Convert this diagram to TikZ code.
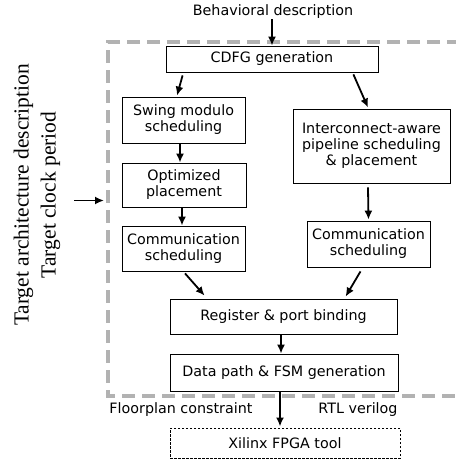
\documentclass[tikz,border=0pt]{standalone}
\usepackage{fontspec}
\setmainfont{DejaVu Sans}
\newfontfamily\tnr{Liberation Serif}
\usetikzlibrary{arrows.meta,calc}
\begin{document}
\begin{tikzpicture}[x=1pt,y=-1pt,
  box/.style={draw,line width=0.8pt,inner sep=0pt,align=center,font=\fontsize{14.3}{16}\selectfont},
  arr/.style={line width=1.8pt,-{Latex[length=9pt,width=8pt]}},
  lbl/.style={inner sep=0pt,font=\fontsize{14.3}{16}\selectfont},
  frame/.style={gray!60,line width=3.5pt,dash pattern=on 13pt off 7pt}]
\useasboundingbox (0,0) rectangle (455,463);
\draw[frame] (480,42) -- (108,42) -- (108,396) -- (480,396);

\node[lbl] (beh) at (273,12) {Behavioral description};
\node[box,minimum width=212pt,minimum height=26pt] (cdfg) at (272,59) {CDFG generation};
\node[box,minimum width=123pt,minimum height=46pt] (swing) at (183.5,120) {Swing modulo\\scheduling};
\node[box,minimum width=157pt,minimum height=74pt] (inter) at (371.5,146) {Interconnect-aware\\pipeline scheduling\\\& placement};
\node[box,minimum width=124pt,minimum height=44pt] (opt) at (184,185) {Optimized\\placement};
\node[box,minimum width=123pt,minimum height=45pt] (commL) at (183.5,248.5) {Communication\\scheduling};
\node[box,minimum width=123pt,minimum height=46pt] (commR) at (368.5,244) {Communication\\scheduling};
\node[box,minimum width=227pt,minimum height=35pt] (reg) at (283.5,316.5) {Register \& port binding};
\node[box,minimum width=228pt,minimum height=37pt] (dp) at (284,372.5) {Data path \& FSM generation};
\node[box,minimum width=230pt,minimum height=30pt,dash pattern=on 2.5pt off 1.5pt,line width=1pt] (xil) at (285,443) {Xilinx FPGA tool};

\node[lbl] (floor) at (181,410) {Floorplan constraint};
\node[lbl] (rtl) at (358,410) {RTL verilog};

\node[rotate=90,align=center,inner sep=0pt,font=\tnr\fontsize{21.5}{27}\selectfont] (tgt) at (37,195) {Target architecture description\\Target clock period};
\coordinate (lin) at (74,200.5);
\coordinate (lout) at (104,200.5);

\draw[arr] (beh.south -| cdfg.north) -- (cdfg.north);
\draw[arr] ($(cdfg.south west)+(17,3)$) -- ($(swing.north)+(-6.5,-1)$);
\draw[arr] ($(cdfg.south east)+(-25,2)$) -- ($(inter.north)+(-3.5,-1)$);
\draw[arr] ($(swing.south)+(-3.5,0)$) -- ($(opt.north)+(-4,0)$);
\draw[arr] ($(opt.south)+(-2,0)$) -- ($(commL.north)+(-1.5,0)$);
\draw[arr] ($(inter.south)+(-3.5,4)$) -- ($(commR.north)+(0,-1)$);
\draw[arr] ($(commL.south)+(1.5,2)$) -- ($(reg.north west)+(35,-3)$);
\draw[arr] ($(commR.south)+(-8,4)$) -- ($(reg.north west)+(176,-2)$);
\draw[arr] ($(reg.south)+(-2.5,0)$) -- ($(dp.north)+(-3,0)$);
\draw[arr] ($(dp.south)+(-4,0)$) -- ($(xil.north)+(-5,-1)$);
\draw[arr] (lin) -- (lout);
\end{tikzpicture}
\end{document}
